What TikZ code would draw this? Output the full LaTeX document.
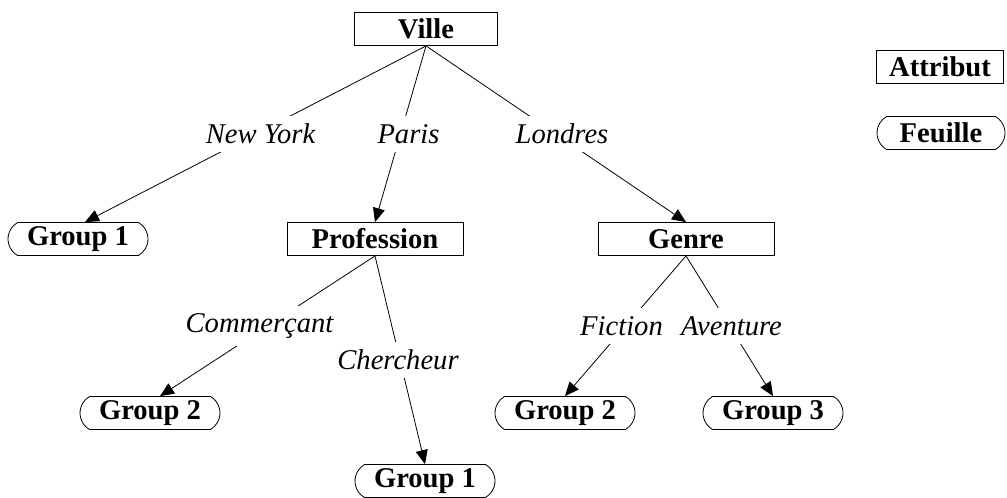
\documentclass[tikz,border=0pt]{standalone}
\usepackage{fontspec}
\setmainfont{Liberation Serif}
\usetikzlibrary{shapes.misc,arrows.meta}

\newcommand{\picfont}{\fontsize{14.3}{16}\selectfont}

\tikzset{
  attr/.style={draw, rectangle, inner sep=0pt, minimum height=16.5pt, font=\picfont\bfseries},
  leaf/.style={draw, rounded rectangle, rounded rectangle arc length=120, inner sep=0pt,
    minimum width=70pt, minimum height=16.5pt, font=\picfont\bfseries},
  lbl/.style={fill=white, inner xsep=1pt, inner ysep=4pt, font=\picfont\itshape},
  arc/.style={-{Triangle[length=7pt,width=6pt]}}
}

\begin{document}
\begin{tikzpicture}[x=0.5pt, y=-0.5pt]
  \useasboundingbox (0,0) rectangle (1007,498);

  \node[attr, minimum width=71.5pt] (ville) at (426, 29) {Ville};
  \node[attr, minimum width=88pt] (prof) at (375, 239) {Profession};
  \node[attr, minimum width=88pt] (genre) at (686, 239) {Genre};

  \node[leaf] (g1a) at ( 78, 239) {Group 1};
  \node[leaf] (g2a) at (150, 413) {Group 2};
  \node[leaf] (g1b) at (425, 481) {Group 1};
  \node[leaf] (g2b) at (565, 413) {Group 2};
  \node[leaf] (g3)  at (773, 413) {Group 3};

  % legend
  \node[attr, minimum width=63.5pt] (attrib) at (940, 67) {Attribut};
  \node[leaf, minimum width=64pt] (feuille) at (941, 133) {Feuille};

  \draw[arc] (ville.south) -- node[lbl, xshift=2.5pt] (ny) {New York} ([xshift=3.5pt]g1a.north);
  \draw[arc] (ville.south) -- node[lbl, xshift=4pt] (paris) {Paris} (prof.north);
  \draw[arc] (ville.south) -- node[lbl, xshift=3pt] (lond) {Londres} (genre.north);

  \draw[arc] (prof.south) -- node[lbl, xshift=-4pt] (comm) {Commerçant} ([xshift=5pt]g2a.north);
  \draw[arc] (prof.south) -- node[lbl, xshift=-1pt] (cherch) {Chercheur} (g1b.north);

  \draw[arc] (genre.south) -- node[lbl, xshift=-2pt] (fict) {Fiction} (g2b.north);
  \draw[arc] (genre.south) -- node[lbl, xshift=1pt] (avent) {Aventure} (g3.north);
\end{tikzpicture}
\end{document}
